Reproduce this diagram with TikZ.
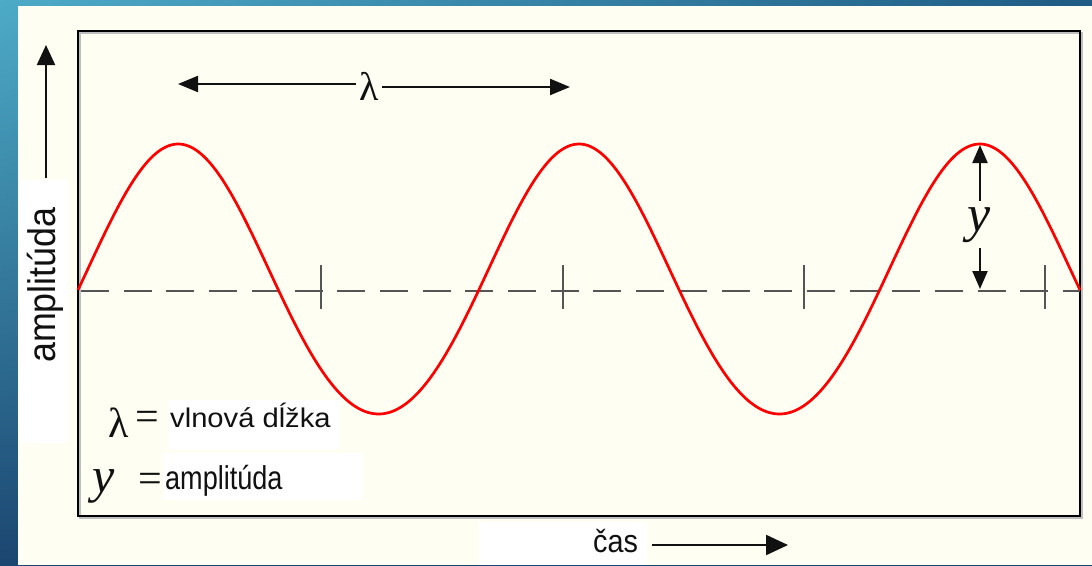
\documentclass[tikz,border=0pt]{standalone}
\usepackage{fontspec}
\setmainfont{Liberation Serif}
\newfontfamily\sansW[FakeStretch=1.08]{Liberation Sans}
\newfontfamily\sansC[FakeStretch=0.82]{Liberation Sans}
\newfontfamily\sansT[FakeStretch=0.9]{Liberation Sans}
\newfontfamily\sansV[FakeStretch=0.93]{Liberation Sans}
\usetikzlibrary{arrows.meta,shadings}
\definecolor{bgA}{HTML}{4DABC7}
\definecolor{bgB}{HTML}{1F5B84}
\definecolor{bgC}{HTML}{1B4670}
\definecolor{cream}{HTML}{FEFEF2}
\definecolor{dashgray}{HTML}{555555}
\definecolor{inkc}{HTML}{111111}
\tikzset{
  txt/.style={inner sep=0pt, text=inkc},
  tipline/.style={line width=2.2pt, draw=inkc, -{Triangle[length=20pt,width=16pt]}},
  wave/.style={draw=red, line width=2.7pt},
  axisline/.style={draw=dashgray, line width=2pt},
}
\begin{document}
\begin{tikzpicture}[x=1pt,y=-1pt]
\useasboundingbox (0,0) rectangle (1092,565);
% background
\shade[upper left=bgA, upper right=bgB, lower left=bgC, lower right=bgC] (0,0) rectangle (1092,565);
\fill[cream] (18,6) rectangle (1092,565);
% white patches behind labels
\fill[white] (20,180) rectangle (68,443);
\fill[white] (168,400) rectangle (340,449);
\fill[white] (163,453) rectangle (363,500);
\fill[white] (479,522) rectangle (647,565);
% frame with faint shadow
\draw[line width=1.5pt, draw=gray!50] (80,33) rectangle (1082,518);
\draw[line width=2.5pt, draw=black] (78,31) rectangle (1080,516);
% dashed axis and ticks
\draw[axisline, dash pattern=on 28pt off 14.7pt] (81,291) -- (1080,291);
\foreach \tx in {321,563,804,1045} \draw[axisline] (\tx,265) -- (\tx,309);
% wave
\draw[wave] plot[domain=78:1080, samples=400] (\x,{279-135*sin((\x-78)/400.8*360)+11*cos((\x-78)/400.8*360)^2});
% lambda arrow
\node[txt, anchor=base, inner xsep=3pt, font=\fontsize{40}{40}\selectfont] (lam) at (369,100) {λ};
\coordinate (lamL) at (178,84);
\coordinate (lamR) at (570,87);
\draw[tipline] (lamL -| lam.west) -- (lamL);
\draw[tipline] (lamR -| lam.east) -- (lamR);
% y arrow
\node[txt, anchor=base, inner ysep=6pt, font=\fontsize{52}{52}\selectfont\itshape] (yA) at (979,231) {y};
\coordinate (yTop) at (980,145);
\coordinate (yBot) at (980,289);
\draw[tipline, -{Triangle[length=18pt,width=15pt]}] (yTop |- yA.north) -- (yTop);
\draw[tipline, -{Triangle[length=18pt,width=15pt]}] (yBot |- yA.south) -- (yBot);
% vertical axis label and arrow
\node[txt, rotate=90, anchor=base west, font=\fontsize{38.5}{38.5}\sansV] (ampV) at (55,363) {amplitúda};
\coordinate (ampTip) at (46,45);
\coordinate (ampBase) at (46,178);
\draw[tipline, -{Triangle[length=20pt,width=18pt]}] (ampBase) -- (ampTip);
% time label and arrow
\node[txt, anchor=base west, font=\fontsize{32}{32}\sansT] (cas) at (593,552) {čas};
\coordinate (casA) at (652,545);
\coordinate (casB) at (788,545);
\draw[tipline, -{Triangle[length=22pt,width=20pt]}] (casA) -- (casB);
% legend
\node[txt, anchor=base, font=\fontsize{42}{42}\selectfont] (lamLeg) at (118.5,437) {λ};
\node[txt, anchor=base, font=\fontsize{42}{42}\selectfont] (eq1) at (147.5,430) {=};
\node[txt, anchor=base west, font=\fontsize{27}{27}\sansW] (vd) at (170,427) {vlnová dĺžka};
\node[txt, anchor=base, font=\fontsize{50}{50}\selectfont\itshape] (yLeg) at (104,492) {y};
\node[txt, anchor=base, font=\fontsize{42}{42}\selectfont] (eq2) at (150,492) {=};
\node[txt, anchor=base west, font=\fontsize{33}{33}\sansC] (ampL) at (165,489) {amplitúda};
\end{tikzpicture}
\end{document}
